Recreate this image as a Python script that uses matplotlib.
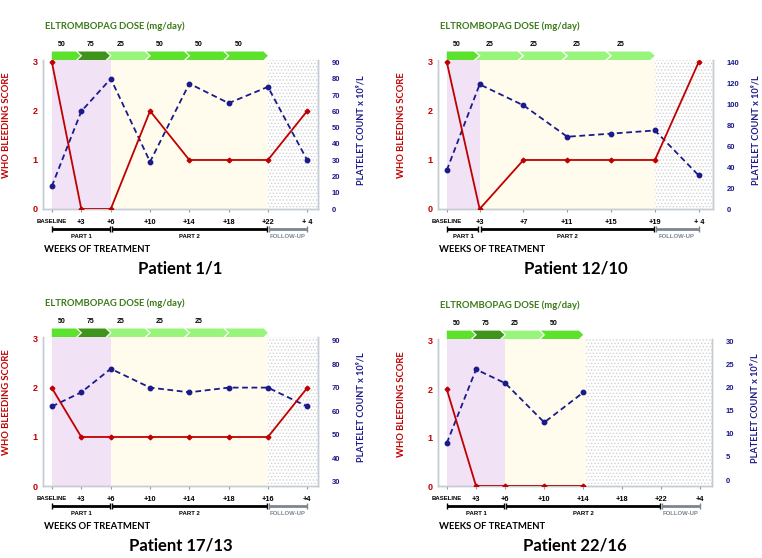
import matplotlib
matplotlib.use('Agg')
import matplotlib.pyplot as plt
from matplotlib.patches import Polygon
from matplotlib.transforms import blended_transform_factory, offset_copy

plt.rcParams['font.family'] = ['Lato', 'DejaVu Sans']
plt.rcParams['hatch.linewidth'] = 0.6
NUMFONT = 'Liberation Sans'

# data ------------------------------------------------------------
p1_weeks = [0, 3, 6, 10, 14, 18, 22, 26]
p1_ticks = ['BASELINE', '+3', '+6', '+10', '+14', '+18', '+22', '+ 4']
p1_bleed = [3, 0, 0, 2, 1, 1, 1, 2]
p1_platelets = [14, 60, 80, 29, 77, 65, 75, 30]
p1_doses = [50, 75, 25, 50, 50, 50]
p1_dose_text = ['50', '75', '25', '50', '50', '50']
p1_dose_weeks = [0, 3, 6, 10, 14, 18, 22]
p1_parts = [0, 6, 22, 26]

p2_weeks = [0, 3, 7, 11, 15, 19, 23]
p2_ticks = ['BASELINE', '+3', '+7', '+11', '+15', '+19', '+ 4']
p2_bleed = [3, 0, 1, 1, 1, 1, 3]
p2_platelets = [37, 119, 99, 69, 72, 75, 32]
p2_doses = [50, 25, 25, 25, 25]
p2_dose_text = ['50', '25', '25', '25', '25']
p2_dose_weeks = [0, 3, 7, 11, 15, 19]
p2_parts = [0, 3, 19, 23]

p3_weeks = [0, 3, 6, 10, 14, 18, 22, 26]
p3_ticks = ['BASELINE', '+3', '+6', '+10', '+14', '+18', '+16', '+4']
p3_bleed = [2, 1, 1, 1, 1, 1, 1, 2]
p3_platelets = [62, 68, 78, 70, 68, 70, 70, 62]
p3_doses = [50, 75, 25, 25, 25, 25]
p3_dose_text = ['50', '75', '25', '25', '25', '']
p3_dose_weeks = [0, 3, 6, 10, 14, 18, 22]
p3_parts = [0, 6, 22, 26]

p4_weeks = [0, 3, 6, 10, 14, 18, 22, 26]
p4_ticks = ['BASELINE', '+3', '+6', '+10', '+14', '+18', '+22', '+4']
p4_bleed = [2, 0, 0, 0, 0]
p4_platelets = [8, 24, 21, 12.5, 19]
p4_doses = [50, 75, 25, 50]
p4_dose_text = ['50', '75', '25', '50']
p4_dose_weeks = [0, 3, 6, 10, 14]
p4_parts = [0, 6, 22, 26]

# style -----------------------------------------------------------
RED = '#c00000'
NAVY = '#1a1a8a'
GRID = '#c5ccd4'
dose_colors = {50: '#5ce22c', 75: '#3f951c', 25: '#98f57c'}

W, H = 762, 558
fig = plt.figure(figsize=(W / 100, H / 100), dpi=100)

# box = axes in pixels (left, top, right, bottom)
panels = [
    dict(title='Patient 1/1', w=p1_weeks, t=p1_ticks, b=p1_bleed, p=p1_platelets,
         d=p1_doses, dt=p1_dose_text, dw=p1_dose_weeks, parts=p1_parts, dot=22,
         box=(43, 60, 318, 209), xlim=(-0.9, 27.1), rlim=(0, 91.5), rt=range(0, 91, 10)),
    dict(title='Patient 12/10', w=p2_weeks, t=p2_ticks, b=p2_bleed, p=p2_platelets,
         d=p2_doses, dt=p2_dose_text, dw=p2_dose_weeks, parts=p2_parts, dot=19,
         box=(438, 60, 713, 209), xlim=(-0.8, 24.3), rlim=(0, 142.3), rt=range(0, 141, 20)),
    dict(title='Patient 17/13', w=p3_weeks, t=p3_ticks, b=p3_bleed, p=p3_platelets,
         d=p3_doses, dt=p3_dose_text, dw=p3_dose_weeks, parts=p3_parts, dot=22,
         box=(43, 337, 318, 486), xlim=(-0.9, 27.1), rlim=(28.2, 91.5), rt=range(30, 91, 10)),
    dict(title='Patient 22/16', w=p4_weeks, t=p4_ticks, b=p4_bleed, p=p4_platelets,
         d=p4_doses, dt=p4_dose_text, dw=p4_dose_weeks, parts=p4_parts, dot=14.3,
         box=(438, 339, 712, 486), xlim=(-0.9, 27.2), rlim=(-1.3, 30.6), rt=range(0, 31, 5)),
]

for P in panels:
    l, t, r, b = P['box']
    ax = fig.add_axes([l / W, 1 - b / H, (r - l) / W, (b - t) / H])
    ax2 = ax.twinx()
    ax.set_zorder(ax2.get_zorder() + 1)
    ax.patch.set_visible(False)
    ax.set_xlim(*P['xlim'])
    ax.set_ylim(0, 3.04)
    ax2.set_ylim(*P['rlim'])

    x_left, x_right = P['xlim']
    w = P['w']
    # background shading
    ax2.axvspan(w[0], P['parts'][1], color='#f1e2f6', lw=0, zorder=0)
    ax2.axvspan(P['parts'][1], P['dot'], color='#fffcee', lw=0, zorder=0)
    ax2.axvspan(P['dot'], x_right, facecolor='white', edgecolor='#d2d2d2',
                hatch='.....', lw=0, zorder=0)

    # series
    ax2.plot(w[:len(P['p'])], P['p'], color=NAVY, lw=1.3, ls=(0, (3.2, 2)),
             marker='o', ms=3.2, zorder=3)
    ax.plot(w[:len(P['b'])], P['b'], color=RED, lw=1.3, marker='D', ms=2.4, zorder=4)

    # axes cosmetics
    for a in (ax, ax2):
        a.spines['top'].set_visible(False)
        for s in ('left', 'right', 'bottom'):
            a.spines[s].set_color(GRID)
            a.spines[s].set_linewidth(1)
    ax.set_yticks([0, 1, 2, 3])
    ax.tick_params(axis='y', length=0, pad=4, labelcolor=RED, labelsize=6.5)
    for lab in ax.get_yticklabels():
        lab.set_fontweight('bold')
        lab.set_family(NUMFONT)
    ax2.set_yticks(list(P['rt']))
    ax2.tick_params(axis='y', length=0, pad=10, labelcolor=NAVY, labelsize=5.5)
    for lab in ax2.get_yticklabels():
        lab.set_fontweight('bold')
        lab.set_family(NUMFONT)
    ax.set_xticks(w)
    ax.set_xticklabels(P['t'], fontsize=5.3, fontweight='bold', family=NUMFONT)
    ax.get_xticklabels()[0].set_fontsize(4.3)
    ax.tick_params(axis='x', length=2.5, width=0.8, color='#999999', pad=5)

    ax.set_ylabel('WHO BLEEDING SCORE', color=RED, fontsize=6.8, fontweight='bold')
    ax.yaxis.set_label_coords(-0.115, 0.56)
    ax2.set_ylabel('PLATELET COUNT x 10⁹/L', color=NAVY, fontsize=6.6, fontweight='bold')
    ax2.yaxis.set_label_coords(1.14, 0.53)

    # dose chevrons above the plot
    tr = blended_transform_factory(ax.transData, ax.transAxes)
    y0, y1 = 1.0, 1.057
    ym = (y0 + y1) / 2
    tip, gap = 0.45, 0.18
    dw = P['dw']
    for i, dose in enumerate(P['d']):
        a0, a1 = dw[i] + gap / 2, dw[i + 1] - gap / 2
        if i == 0:
            left = [(dw[i], y1), (dw[i], y0)]
        else:
            left = [(a0 - tip, y1), (a0, ym), (a0 - tip, y0)]
        if i == len(P['d']) - 1:
            a1 = dw[i + 1]
        right = [(a1 - tip, y0), (a1, ym), (a1 - tip, y1)]
        poly = Polygon(left + right, closed=True, transform=tr, clip_on=False,
                       facecolor=dose_colors[dose], edgecolor='none')
        ax.add_patch(poly)
        ax.annotate(P['dt'][i], xy=(dw[i], 1), xycoords=tr, xytext=(7, 11),
                    textcoords='offset points', ha='center', va='center',
                    fontsize=5, fontweight='bold', family=NUMFONT)
    ax.annotate('ELTROMBOPAG DOSE (mg/day)', xy=(0, 1), xycoords='axes fraction',
                xytext=(1.5, 24), textcoords='offset points', ha='left', va='center',
                fontsize=6.8, fontweight='bold', color='#3a7a18')

    # treatment phase bars below the axis
    parts = P['parts']
    names = ['PART 1', 'PART 2', 'FOLLOW-UP']
    cols = ['black', 'black', '#7c8690']
    off = offset_copy(tr, fig=fig, x=0, y=-14.4, units='points')
    for k in range(3):
        s0, s1 = parts[k], parts[k + 1]
        s0i = s0 + (0.12 if k > 0 else 0)
        s1i = s1 - (0.12 if k < 2 else 0)
        ax.plot([s0i, s1i], [0, 0], transform=off, color=cols[k], lw=2,
                clip_on=False, solid_capstyle='butt')
        ax.plot([s0i, s1i], [0, 0], transform=off, color=cols[k], lw=0,
                marker='|', ms=5, mew=1, clip_on=False)
        ax.annotate(names[k], xy=((s0 + s1) / 2, 0), xycoords=tr, xytext=(0, -20),
                    textcoords='offset points', ha='center', va='center',
                    fontsize=4.3, fontweight='bold', color=cols[k], family=NUMFONT)
    ax.annotate('WEEKS OF TREATMENT', xy=(0, 0), xycoords='axes fraction',
                xytext=(0.5, -29), textcoords='offset points', ha='left', va='center',
                fontsize=6.8, fontweight='bold')
    ax.annotate(P['title'], xy=(0.5, 0), xycoords='axes fraction',
                xytext=(0, -42.5), textcoords='offset points', ha='center', va='center',
                fontsize=12, fontweight='bold')

fig.savefig('out.png', dpi=100)
